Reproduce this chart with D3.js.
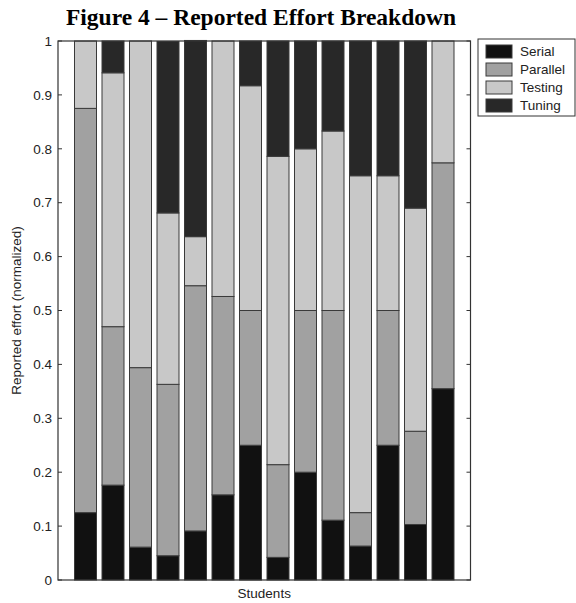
<!DOCTYPE html>
<html>
  <head>
    <meta charset="utf-8">
    <script src="https://d3js.org/d3.v7.min.js"></script>
    <style>
      body { margin: 0; background: #fff; }
      text { font-family: "Liberation Sans", Arial, sans-serif; }
    </style>
  </head>
<body>
  <script type="text/javascript">
    // Effort shares per student
    var students = d3.range(1, 15);
    var serial   = [0.125, 0.176, 0.061, 0.045, 0.091, 0.158, 0.250, 0.042, 0.200, 0.111, 0.063, 0.250, 0.103, 0.355];
    var parallel = [0.750, 0.294, 0.333, 0.318, 0.455, 0.368, 0.250, 0.172, 0.300, 0.389, 0.062, 0.250, 0.173, 0.419];
    var testing  = [0.125, 0.471, 0.606, 0.318, 0.091, 0.474, 0.417, 0.572, 0.300, 0.333, 0.625, 0.250, 0.414, 0.226];
    var tuning   = [0.000, 0.059, 0.000, 0.318, 0.364, 0.000, 0.083, 0.214, 0.200, 0.167, 0.250, 0.250, 0.310, 0.000];
    var seriesNames = ["Serial", "Parallel", "Testing", "Tuning"];
    var yTicks = d3.range(0, 11).map(function(i) { return i / 10; });

    "use strict";
    var width = 576, height = 603;
    var box = {left: 58, right: 470.5, top: 41, bottom: 580};
    var colors = ["#111111", "#a1a1a1", "#c8c8c8", "#282828"];
    var fs = "13.5px";

    var svg = d3.select("body").append("svg")
        .attr("width", width)
        .attr("height", height);

    var rows = students.map(function(s, i) {
      return {student: s, Serial: serial[i], Parallel: parallel[i], Testing: testing[i], Tuning: tuning[i]};
    });
    var stacked = d3.stack().keys(seriesNames)(rows);

    // matlab style: bars at 1..14, xlim [0, 15], bar width 0.8
    var x = d3.scaleLinear().domain([0, 15]).range([box.left, box.right]);
    var y = d3.scaleLinear().domain([0, 1]).range([box.bottom, box.top]);
    var bw = x(0.8) - x(0);

    // Title
    svg.append("text")
      .attr("x", 261)
      .attr("y", 25)
      .attr("text-anchor", "middle")
      .style("font-family", "'Liberation Serif', 'Times New Roman', serif")
      .style("font-weight", "bold")
      .style("font-size", "23.5px")
      .text("Figure 4 \u2013 Reported Effort Breakdown");

    // bars
    svg.selectAll("g.layer")
      .data(stacked)
      .enter().append("g")
        .attr("class", "layer")
        .attr("fill", function(d, i) { return colors[i]; })
      .selectAll("rect")
      .data(function(d) { return d.filter(function(p) { return p[1] - p[0] > 0; }); })
      .enter().append("rect")
        .attr("x", function(d) { return x(d.data.student) - bw / 2; })
        .attr("y", function(d) { return y(d[1]); })
        .attr("width", bw)
        .attr("height", function(d) { return y(d[0]) - y(d[1]); })
        .attr("stroke", "#3a3a3a")
        .attr("stroke-width", 1);

    // box round the plot
    svg.append("rect")
      .attr("x", box.left)
      .attr("y", box.top)
      .attr("width", box.right - box.left)
      .attr("height", box.bottom - box.top)
      .attr("fill", "none")
      .attr("stroke", "#333")
      .attr("stroke-width", 1.2);

    // y ticks both sides, pointing in
    var tk = svg.append("g");
    tk.selectAll("line.l").data(yTicks).enter().append("line")
      .attr("x1", box.left).attr("x2", box.left + 4)
      .attr("y1", function(d) { return y(d); }).attr("y2", function(d) { return y(d); })
      .attr("stroke", "#333");
    tk.selectAll("line.r").data(yTicks).enter().append("line")
      .attr("x1", box.right - 4).attr("x2", box.right)
      .attr("y1", function(d) { return y(d); }).attr("y2", function(d) { return y(d); })
      .attr("stroke", "#333");
    tk.selectAll("text").data(yTicks).enter().append("text")
      .attr("x", box.left - 6)
      .attr("y", function(d) { return y(d); })
      .attr("dy", "0.35em")
      .attr("text-anchor", "end")
      .style("font-size", fs)
      .style("fill", "#222")
      .text(function(d) { return d3.format("")(+d.toFixed(1)); });

    // axis titles
    svg.append("text")
      .attr("x", (box.left + box.right) / 2)
      .attr("y", 598)
      .attr("text-anchor", "middle")
      .style("font-size", fs)
      .style("fill", "#222")
      .text("Students");

    svg.append("text")
      .attr("transform", "translate(21," + ((box.top + box.bottom) / 2) + ") rotate(-90)")
      .attr("text-anchor", "middle")
      .style("font-size", fs)
      .style("fill", "#222")
      .text("Reported effort (normalized)");

    // legend
    var lg = svg.append("g").attr("transform", "translate(478,39)");
    lg.append("rect")
      .attr("width", 97).attr("height", 77)
      .attr("fill", "#fff").attr("stroke", "#333");
    var item = lg.selectAll("g.item").data(seriesNames).enter().append("g")
      .attr("class", "item")
      .attr("transform", function(d, i) { return "translate(8," + (6 + i * 18) + ")"; });
    item.append("rect")
      .attr("width", 26).attr("height", 13)
      .attr("fill", function(d, i) { return colors[i]; })
      .attr("stroke", "#3a3a3a");
    item.append("text")
      .attr("x", 34).attr("y", 6.5).attr("dy", "0.35em")
      .style("font-size", fs)
      .style("fill", "#222")
      .text(function(d) { return d; });
  </script>
</body>
</html>
